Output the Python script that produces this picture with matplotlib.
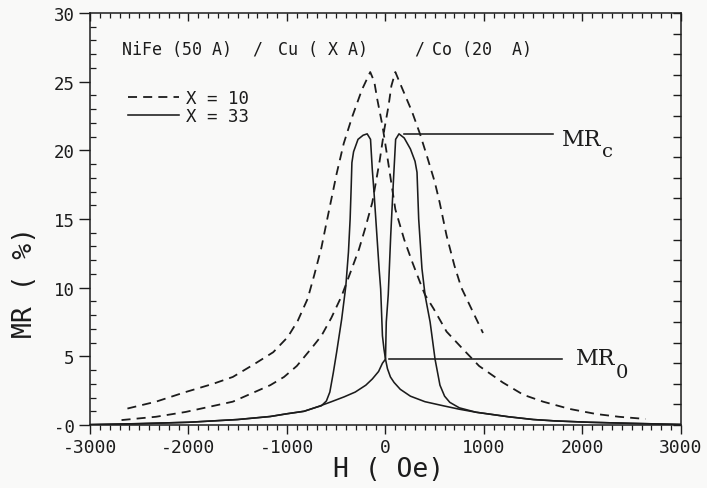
import matplotlib
matplotlib.use("Agg")
import matplotlib.pyplot as plt
from matplotlib.ticker import MultipleLocator, FixedLocator
from matplotlib.lines import Line2D

plt.rcParams["axes.unicode_minus"] = False

# ---- data: MR(H) sweeps for the two Cu spacer thicknesses ----
# X = 10 : branch peaking at negative field
h10_a = [-2620, -2330, -2030, -1750, -1550, -1340, -1140, -993, -890, -790, -724,
         -651, -600, -548, -496, -424, -340, -240, -155, -114, -83, -31, 30, 100,
         190, 270, 350, 400, 490, 620, 790, 950, 1190, 1400, 1600, 1870, 2140,
         2370, 2640]
mr10_a = [1.2, 1.7, 2.4, 3.0, 3.5, 4.4, 5.3, 6.4, 7.6, 9.2, 10.9,
          12.9, 14.7, 16.5, 18.3, 20.5, 22.4, 24.4, 25.7, 25.0, 23.7, 21.8, 19.0, 15.7,
          13.5, 11.9, 10.4, 9.5, 8.45, 6.8, 5.5, 4.3, 3.1, 2.2, 1.7, 1.17, 0.8,
          0.6, 0.44]

# X = 10 : branch peaking at positive field
h10_b = [-2680, -2330, -2030, -1550, -1170, -1030, -900, -750, -650, -550, -445,
         -341, -269, -207, -134, -60, -10, 30, 60, 100, 170, 270, 350, 420, 500,
         550, 620, 700, 770, 890, 990]
mr10_b = [0.36, 0.6, 0.95, 1.7, 2.9, 3.5, 4.3, 5.6, 6.5, 7.8, 9.4,
          11.4, 12.8, 14.3, 16.2, 19.2, 21.6, 23.2, 24.7, 25.7, 24.5, 22.8, 21.2, 19.6, 17.7,
          16.2, 13.8, 11.6, 10.0, 8.2, 6.7]

# X = 33 : branch peaking at negative field
h33_a = [-3000, -2500, -2000, -1500, -1170, -1000, -827, -700, -651, -600, -565,
         -530, -496, -445, -403, -376, -359, -348, -341, -324, -279, -227, -186,
         -152, -134, -117, -65, -49, -31, -15, 0, 20, 50, 87, 150, 253, 400, 587,
         750, 920, 1250, 1500, 1720, 2070, 2500, 3000]
mr33_a = [0.03, 0.1, 0.2, 0.4, 0.62, 0.82, 1.0, 1.3, 1.4, 1.75, 2.4,
          3.8, 5.3, 7.7, 10.1, 12.6, 15.0, 17.4, 19.1, 19.9, 20.8, 21.1, 21.2,
          20.8, 18.6, 17.0, 11.4, 9.9, 6.5, 5.5, 4.8, 4.1, 3.5, 3.1, 2.6, 2.1, 1.7, 1.4,
          1.15, 0.93, 0.6, 0.4, 0.3, 0.2, 0.12, 0.04]

# X = 33 : branch peaking at positive field
h33_b = [-3000, -2500, -2000, -1500, -1170, -1000, -827, -700, -548, -420, -307,
         -200, -134, -70, -31, -10, 0, 8, 28, 53, 80, 103, 137, 190, 253, 300,
         320, 337, 370, 403, 453, 503, 553, 600, 653, 750, 920, 1250, 1500, 1720,
         2070, 2500, 3000]
mr33_b = [0.03, 0.1, 0.2, 0.4, 0.62, 0.82, 1.0, 1.3, 1.7, 2.05, 2.4,
          2.9, 3.35, 3.9, 4.5, 4.7, 4.8, 7.5, 9.5, 13.8, 17.7, 20.8, 21.2, 20.9, 20.1, 19.2,
          18.4, 15.0, 11.4, 9.4, 7.5, 4.8, 2.9, 2.1, 1.65, 1.25, 0.93, 0.6, 0.4, 0.3,
          0.2, 0.12, 0.04]

series_labels = ["X = 10", "X = 33"]
# sample stack, written in pieces as the plotter spaced it
title_parts = ["NiFe (50 A)", "/", "Cu ( X A)", "/", "Co (20  A)"]
title_x = [0.054, 0.275, 0.318, 0.548, 0.579]
x_ticks = [-3000, -2000, -1000, 0, 1000, 2000, 3000]
x_ticklabels = ["-3000", "-2000", "-1000", "0", "1000", "2000", "3000"]
y_ticks = [0, 5, 10, 15, 20, 25, 30]
y_ticklabels = ["-0", "5", "10", "15", "20", "25", "30"]

# ---- figure ----
ink = "#1c1c1c"
paper = "#f9f9f8"
mono = "DejaVu Sans Mono"

fig = plt.figure(figsize=(7.07, 4.89), dpi=100, facecolor=paper)
ax = fig.add_axes([0.1273, 0.1288, 0.8359, 0.8426])
ax.set_facecolor(paper)

dash_kw = dict(color=ink, lw=1.3, linestyle=(0, (5.0, 3.4)))
solid_kw = dict(color=ink, lw=1.15)
ax.plot(h10_a, mr10_a, **dash_kw)
ax.plot(h10_b, mr10_b, **dash_kw)
ax.plot(h33_a, mr33_a, **solid_kw)
ax.plot(h33_b, mr33_b, **solid_kw)

ax.set_xlim(-3000, 3000)
ax.set_ylim(0, 30)

for s in ax.spines.values():
    s.set_color(ink)
    s.set_linewidth(1.1)

# bottom axis: outward ticks
ax.xaxis.set_major_locator(FixedLocator(x_ticks))
ax.set_xticklabels(x_ticklabels, fontfamily=mono, fontsize=13, color=ink)
ax.xaxis.set_minor_locator(MultipleLocator(100))
ax.tick_params(axis="x", which="major", direction="out", length=6.5, width=1.0,
               pad=3, colors=ink)
ax.tick_params(axis="x", which="minor", direction="out", length=3.8, width=0.9,
               colors=ink)

# left axis: outward major ticks, inward minor ticks
ax.yaxis.set_major_locator(FixedLocator(y_ticks))
ax.set_yticklabels(y_ticklabels, fontfamily=mono, fontsize=12.5, color=ink)
ax.yaxis.set_minor_locator(MultipleLocator(1))
ax.tick_params(axis="y", which="major", direction="out", length=8, width=1.0,
               pad=3, colors=ink)
ax.tick_params(axis="y", which="minor", direction="in", length=4, width=0.9,
               colors=ink)

# top and right frames carry inward ticks only
top = ax.secondary_xaxis("top")
top.xaxis.set_major_locator(MultipleLocator(1000))
top.xaxis.set_minor_locator(MultipleLocator(100))
top.tick_params(which="major", direction="in", length=5.5, width=1.0, labeltop=False,
                colors=ink)
top.tick_params(which="minor", direction="in", length=3.5, width=0.9, colors=ink)
top.spines["top"].set_visible(False)

right = ax.secondary_yaxis("right")
right.yaxis.set_major_locator(MultipleLocator(1.5))
right.yaxis.set_minor_locator(FixedLocator([]))
right.tick_params(which="major", direction="in", length=5.5, width=1.0,
                  labelright=False, colors=ink)
right.spines["right"].set_visible(False)

# axis labels
fig.text(0.550, 0.038, "H ( Oe)", fontfamily=mono, fontsize=19, color=ink,
         ha="center", va="center")
fig.text(0.036, 0.423, "MR ( %)", fontfamily=mono, fontsize=19, color=ink,
         ha="center", va="center", rotation=90)

# sample stack
for part, xp in zip(title_parts, title_x):
    ax.text(xp, 0.913, part, transform=ax.transAxes, fontfamily=mono,
            fontsize=12, color=ink, ha="left", va="center")

# legend
handles = [Line2D([], [], **dash_kw), Line2D([], [], **solid_kw)]
leg = ax.legend(handles, series_labels, loc="upper left",
                bbox_to_anchor=(0.065, 0.815), frameon=False,
                prop={"family": mono, "size": 12.5}, handlelength=2.9,
                handletextpad=0.4, labelspacing=0.0, borderpad=0.0,
                borderaxespad=0.0)
for t in leg.get_texts():
    t.set_color(ink)

# MR_c : peak level of the X = 33 curve; MR_0 : its value at zero field
mr_c = max(mr33_b)
mr_0 = mr33_b[h33_b.index(0)]
ax.plot([190, 1700], [mr_c, mr_c], color=ink, lw=1.15)
ax.plot([40, 1790], [mr_0, mr_0], color=ink, lw=1.15)

serif = "DejaVu Serif"
ax.text(1790, mr_c - 0.35, "MR", fontfamily=serif, fontsize=16, color=ink,
        ha="left", va="center")
ax.text(2200, mr_c - 1.25, "c", fontfamily=serif, fontsize=14, color=ink,
        ha="left", va="center")
ax.text(1930, mr_0 + 0.05, "MR", fontfamily=serif, fontsize=16, color=ink,
        ha="left", va="center")
ax.text(2340, mr_0 - 0.95, "0", fontfamily=serif, fontsize=14, color=ink,
        ha="left", va="center")

fig.savefig("out.png", dpi=100, facecolor=paper)
